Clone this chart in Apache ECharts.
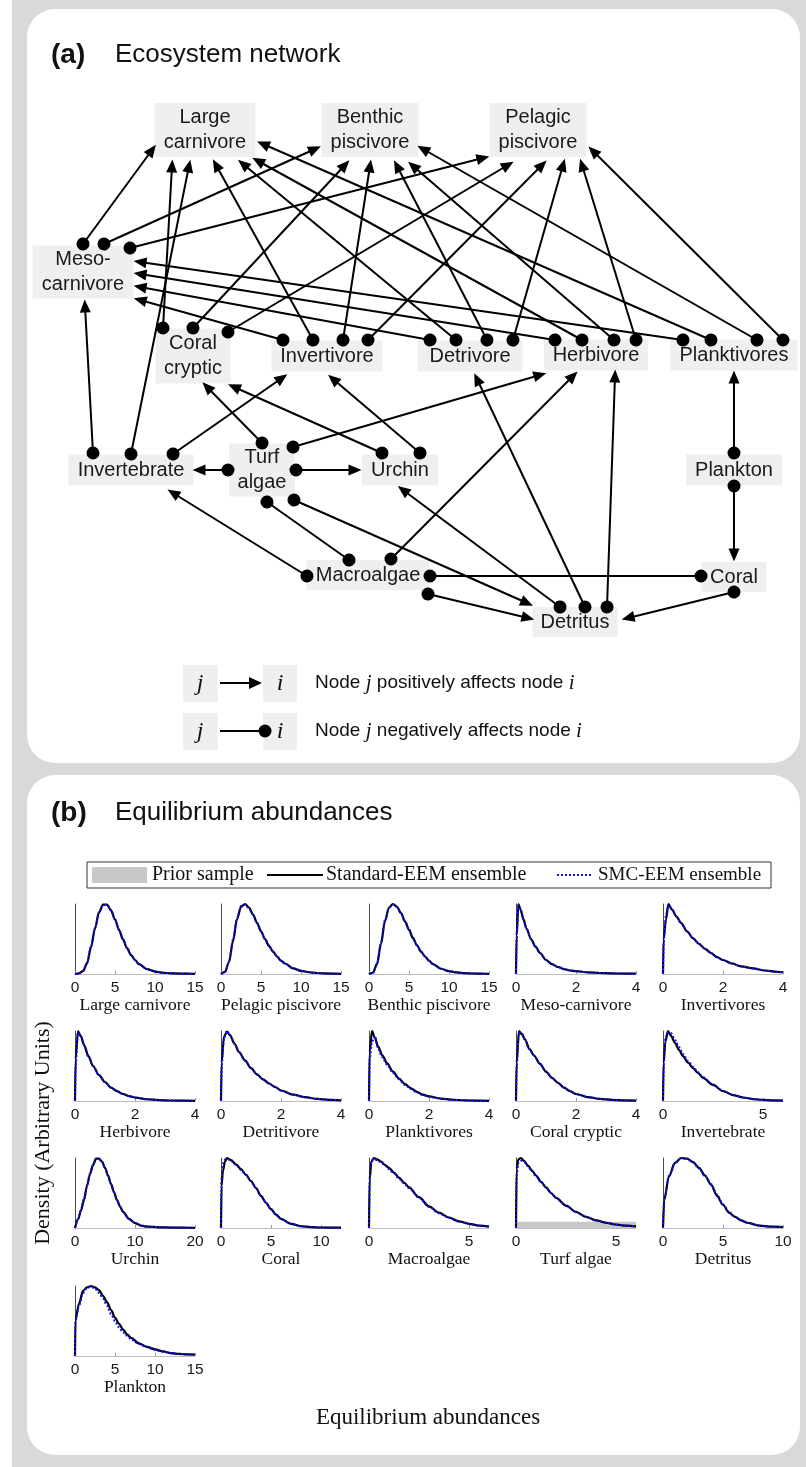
<!DOCTYPE html>
<html lang="en">
<head>
<meta charset="UTF-8">
<title>Ecosystem network and equilibrium abundances</title>
<script src="https://cdn.jsdelivr.net/npm/echarts@6/dist/echarts.min.js"></script>
<style>
    body { margin: 0; padding: 0; background: #fff; }
    #chart { width: 806px; height: 1467px; }
</style>
</head>
<body>
<div id="chart"></div>
<script>
// ---------- panel (a): ecosystem network ----------
const nodeNames = ['Large carnivore', 'Benthic piscivore', 'Pelagic piscivore', 'Meso-carnivore',
    'Coral cryptic', 'Invertivore', 'Detrivore', 'Herbivore', 'Planktivores',
    'Invertebrate', 'Turf algae', 'Urchin', 'Plankton', 'Macroalgae', 'Coral', 'Detritus'];
const nodeLabels = ['Large\ncarnivore', 'Benthic\npiscivore', 'Pelagic\npiscivore', 'Meso-\ncarnivore',
    'Coral\ncryptic', 'Invertivore', 'Detrivore', 'Herbivore', 'Planktivores',
    'Invertebrate', 'Turf\nalgae', 'Urchin', 'Plankton', 'Macroalgae', 'Coral', 'Detritus'];
// layout: box centre x, centre y, width, height (px)
const nodeBoxes = [
    [205, 130, 101, 54], [370, 130, 97, 54], [538, 130, 97, 54], [83, 272, 101, 53],
    [193, 356, 75, 55], [327, 356, 111, 31], [470, 356, 105, 31], [596, 355, 104, 31], [734, 355, 127, 31],
    [131, 470, 125, 31], [262, 470, 66, 53], [400, 470, 76, 31], [734, 470, 96, 31],
    [368, 575, 123, 30], [734, 577, 65, 30], [575, 622, 85, 30]
];
// links: [from, to, kind]  '+' = dot at from, arrow at to ; 'x' = dots at both ends
const links = [
    ['Meso-carnivore', 'Large carnivore', '+'], ['Meso-carnivore', 'Benthic piscivore', '+'], ['Meso-carnivore', 'Pelagic piscivore', '+'],
    ['Invertebrate', 'Meso-carnivore', '+'], ['Invertebrate', 'Large carnivore', '+'], ['Invertebrate', 'Invertivore', '+'],
    ['Coral cryptic', 'Large carnivore', '+'], ['Coral cryptic', 'Benthic piscivore', '+'], ['Coral cryptic', 'Pelagic piscivore', '+'],
    ['Invertivore', 'Meso-carnivore', '+'], ['Invertivore', 'Large carnivore', '+'], ['Invertivore', 'Benthic piscivore', '+'], ['Invertivore', 'Pelagic piscivore', '+'],
    ['Detrivore', 'Meso-carnivore', '+'], ['Detrivore', 'Large carnivore', '+'], ['Detrivore', 'Benthic piscivore', '+'], ['Detrivore', 'Pelagic piscivore', '+'],
    ['Herbivore', 'Meso-carnivore', '+'], ['Herbivore', 'Large carnivore', '+'], ['Herbivore', 'Benthic piscivore', '+'], ['Herbivore', 'Pelagic piscivore', '+'],
    ['Planktivores', 'Meso-carnivore', '+'], ['Planktivores', 'Large carnivore', '+'], ['Planktivores', 'Benthic piscivore', '+'], ['Planktivores', 'Pelagic piscivore', '+'],
    ['Turf algae', 'Coral cryptic', '+'], ['Turf algae', 'Herbivore', '+'], ['Turf algae', 'Invertebrate', '+'], ['Turf algae', 'Urchin', '+'],
    ['Turf algae', 'Macroalgae', 'x'], ['Turf algae', 'Detritus', '+'],
    ['Urchin', 'Coral cryptic', '+'], ['Urchin', 'Invertivore', '+'],
    ['Macroalgae', 'Invertebrate', '+'], ['Macroalgae', 'Herbivore', '+'], ['Macroalgae', 'Coral', 'x'], ['Macroalgae', 'Detritus', '+'],
    ['Detritus', 'Urchin', '+'], ['Detritus', 'Detrivore', '+'], ['Detritus', 'Herbivore', '+'],
    ['Coral', 'Detritus', '+'],
    ['Plankton', 'Planktivores', '+'], ['Plankton', 'Coral', '+']
];
// layout: where each link leaves / meets the boxes (x1, y1, x2, y2 px)
const linkEnds = [
    [83, 244, 152, 150], [104, 244, 315, 149], [130, 248, 483, 158],
    [93, 453, 85, 306], [131, 454, 189, 166], [173, 454, 282, 378],
    [163, 328, 172, 166], [193, 328, 345, 165], [228, 332, 508, 165],
    [283, 340, 140, 300], [313, 340, 216, 165], [343, 340, 370, 166], [368, 340, 542, 165],
    [430, 340, 140, 287], [456, 340, 243, 164], [487, 340, 397, 166], [513, 340, 563, 165],
    [555, 340, 140, 274], [582, 340, 258, 161], [614, 340, 413, 166], [636, 340, 582, 165],
    [683, 340, 140, 262], [711, 340, 263, 144], [757, 340, 423, 149], [783, 340, 593, 151],
    [262, 443, 207, 387], [293, 447, 540, 375], [228, 470, 199, 470], [296, 470, 355, 470],
    [267, 502, 349, 560], [294, 500, 527, 603],
    [382, 453, 234, 387], [420, 453, 333, 379],
    [307, 576, 173, 493], [391, 559, 573, 376], [430, 576, 701, 576], [428, 594, 528, 618],
    [560, 607, 403, 490], [585, 607, 477, 379], [607, 607, 615, 376],
    [734, 592, 628, 618],
    [734, 453, 734, 377], [734, 486, 734, 555]
];

// ---------- panel (b): equilibrium abundance densities ----------
const plotNames = ['Large carnivore', 'Pelagic piscivore', 'Benthic piscivore', 'Meso-carnivore', 'Invertivores',
    'Herbivore', 'Detritivore', 'Planktivores', 'Coral cryptic', 'Invertebrate',
    'Urchin', 'Coral', 'Macroalgae', 'Turf algae', 'Detritus', 'Plankton'];
const plotXMax = [15, 15, 15, 4, 4, 4, 4, 4, 4, 6, 20, 12, 6, 6, 10, 15];
const plotTicks = [[0, 5, 10, 15], [0, 5, 10, 15], [0, 5, 10, 15], [0, 2, 4], [0, 2, 4],
    [0, 2, 4], [0, 2, 4], [0, 2, 4], [0, 2, 4], [0, 5],
    [0, 10, 20], [0, 5, 10], [0, 5], [0, 5], [0, 5, 10], [0, 5, 10, 15]];

const x15 = [0, 0.5, 1, 1.5, 2, 2.5, 3, 3.5, 4, 4.5, 5, 5.5, 6, 6.5, 7, 7.5, 8, 9, 10, 11, 12, 13, 14, 15];
const stdLargeCarn = [0, 0.01, 0.04, 0.15, 0.38, 0.65, 0.88, 0.99, 0.99, 0.91, 0.78, 0.63, 0.49, 0.37, 0.27, 0.2, 0.14, 0.07, 0.035, 0.018, 0.01, 0.006, 0.004, 0.003];
const smcLargeCarn = [0, 0.01, 0.05, 0.16, 0.39, 0.66, 0.88, 0.98, 0.99, 0.91, 0.78, 0.64, 0.5, 0.38, 0.28, 0.2, 0.14, 0.07, 0.036, 0.018, 0.01, 0.006, 0.004, 0.003];
const stdPelagic = [0, 0.03, 0.17, 0.47, 0.78, 0.96, 1.0, 0.95, 0.85, 0.73, 0.61, 0.5, 0.4, 0.32, 0.25, 0.19, 0.15, 0.08, 0.045, 0.025, 0.014, 0.008, 0.005, 0.003];
const smcPelagic = [0, 0.03, 0.18, 0.49, 0.8, 0.97, 0.99, 0.94, 0.85, 0.73, 0.61, 0.5, 0.41, 0.32, 0.25, 0.19, 0.15, 0.08, 0.045, 0.025, 0.014, 0.008, 0.005, 0.003];
const stdBenthic = [0, 0.02, 0.14, 0.43, 0.76, 0.95, 1.0, 0.96, 0.87, 0.75, 0.63, 0.51, 0.41, 0.32, 0.25, 0.19, 0.14, 0.075, 0.04, 0.022, 0.012, 0.007, 0.004, 0.003];
const smcBenthic = [0, 0.02, 0.15, 0.45, 0.77, 0.95, 0.99, 0.96, 0.87, 0.76, 0.64, 0.52, 0.41, 0.32, 0.25, 0.19, 0.14, 0.075, 0.04, 0.022, 0.012, 0.007, 0.004, 0.003];

const xMeso = [0, 0.02, 0.08, 0.15, 0.25, 0.35, 0.5, 0.65, 0.8, 1.0, 1.2, 1.4, 1.6, 1.8, 2.0, 2.4, 2.8, 3.2, 3.6, 4.0];
const stdMeso = [0, 0.55, 1.0, 0.92, 0.78, 0.65, 0.5, 0.39, 0.3, 0.2, 0.14, 0.1, 0.07, 0.05, 0.04, 0.024, 0.014, 0.009, 0.006, 0.004];
const smcMeso = [0, 0.5, 0.99, 0.93, 0.78, 0.65, 0.5, 0.39, 0.3, 0.2, 0.14, 0.1, 0.07, 0.05, 0.04, 0.024, 0.014, 0.009, 0.006, 0.004];

const xInvertivores = [0, 0.02, 0.1, 0.18, 0.3, 0.45, 0.6, 0.8, 1.0, 1.2, 1.4, 1.6, 1.8, 2.0, 2.3, 2.6, 3.0, 3.4, 3.8, 4.0];
const stdInvertivores = [0, 0.5, 0.78, 1.0, 0.92, 0.82, 0.73, 0.61, 0.51, 0.43, 0.36, 0.3, 0.24, 0.2, 0.15, 0.11, 0.08, 0.05, 0.03, 0.025];
const smcInvertivores = [0, 0.45, 0.85, 0.99, 0.92, 0.82, 0.73, 0.61, 0.51, 0.43, 0.36, 0.3, 0.24, 0.2, 0.15, 0.11, 0.08, 0.05, 0.03, 0.025];

const x4 = [0, 0.02, 0.1, 0.2, 0.3, 0.45, 0.6, 0.8, 1.0, 1.2, 1.4, 1.6, 1.8, 2.0, 2.4, 2.8, 3.2, 3.6, 4.0];
const stdHerbivore = [0, 0.6, 1.0, 0.92, 0.8, 0.64, 0.5, 0.37, 0.27, 0.19, 0.14, 0.1, 0.07, 0.05, 0.025, 0.013, 0.007, 0.004, 0.002];
const smcHerbivore = [0, 0.5, 0.97, 0.93, 0.8, 0.63, 0.5, 0.37, 0.27, 0.19, 0.14, 0.1, 0.07, 0.05, 0.025, 0.013, 0.007, 0.004, 0.002];
const stdDetritivore = [0, 0.55, 0.92, 0.99, 0.94, 0.82, 0.7, 0.58, 0.47, 0.38, 0.31, 0.25, 0.2, 0.15, 0.09, 0.055, 0.03, 0.017, 0.01];
const smcDetritivore = [0, 0.5, 0.9, 1.0, 0.94, 0.82, 0.7, 0.58, 0.47, 0.38, 0.31, 0.25, 0.2, 0.15, 0.09, 0.055, 0.03, 0.017, 0.01];
const stdPlanktivores = [0, 0.7, 1.0, 0.9, 0.78, 0.65, 0.54, 0.42, 0.32, 0.24, 0.18, 0.13, 0.09, 0.065, 0.035, 0.018, 0.01, 0.005, 0.003];
const smcPlanktivores = [0, 0.6, 0.85, 0.93, 0.75, 0.62, 0.52, 0.4, 0.31, 0.23, 0.17, 0.12, 0.085, 0.06, 0.033, 0.017, 0.009, 0.005, 0.003];
const stdCoralCryptic = [0, 0.55, 1.0, 0.95, 0.88, 0.74, 0.65, 0.53, 0.42, 0.33, 0.26, 0.19, 0.14, 0.1, 0.055, 0.03, 0.016, 0.008, 0.005];
const smcCoralCryptic = [0, 0.5, 0.98, 0.96, 0.87, 0.74, 0.65, 0.53, 0.42, 0.33, 0.26, 0.19, 0.14, 0.1, 0.055, 0.03, 0.016, 0.008, 0.005];

const x6 = [0, 0.03, 0.12, 0.25, 0.4, 0.6, 0.8, 1.0, 1.25, 1.5, 1.75, 2.0, 2.5, 3.0, 3.5, 4.0, 4.5, 5.0, 5.5, 6.0];
const stdInvertebrate = [0, 0.55, 0.85, 1.0, 0.93, 0.83, 0.73, 0.64, 0.55, 0.47, 0.4, 0.33, 0.23, 0.14, 0.085, 0.05, 0.028, 0.015, 0.008, 0.005];
const smcInvertebrate = [0, 0.5, 0.9, 0.98, 0.97, 0.87, 0.77, 0.67, 0.57, 0.49, 0.41, 0.34, 0.235, 0.145, 0.087, 0.05, 0.028, 0.015, 0.008, 0.005];
const stdMacroalgae = [0, 0.7, 0.95, 1.0, 0.98, 0.95, 0.9, 0.86, 0.79, 0.72, 0.65, 0.58, 0.44, 0.31, 0.22, 0.15, 0.095, 0.06, 0.035, 0.02];
const smcMacroalgae = [0, 0.68, 0.96, 0.99, 0.97, 0.94, 0.89, 0.84, 0.78, 0.7, 0.64, 0.57, 0.43, 0.3, 0.21, 0.145, 0.09, 0.058, 0.034, 0.02];
const stdTurf = [0, 0.85, 0.98, 1.0, 0.96, 0.89, 0.82, 0.75, 0.66, 0.58, 0.5, 0.43, 0.32, 0.23, 0.16, 0.11, 0.075, 0.05, 0.033, 0.024];
const smcTurf = [0, 0.75, 0.93, 0.96, 0.95, 0.88, 0.81, 0.74, 0.66, 0.58, 0.5, 0.43, 0.32, 0.23, 0.16, 0.11, 0.075, 0.05, 0.033, 0.024];
const priorTurfX = [0, 6];
const priorTurfY = [0.09, 0.09];

const x20 = [0, 0.5, 1, 1.5, 2, 2.5, 3, 3.5, 4, 4.5, 5, 5.5, 6, 6.5, 7, 7.5, 8, 9, 10, 11, 12, 14, 16, 18, 20];
const stdUrchin = [0, 0.12, 0.25, 0.4, 0.6, 0.77, 0.9, 0.99, 0.99, 0.95, 0.86, 0.75, 0.63, 0.51, 0.4, 0.31, 0.23, 0.13, 0.07, 0.035, 0.02, 0.01, 0.006, 0.004, 0.003];
const smcUrchin = [0, 0.13, 0.27, 0.42, 0.61, 0.78, 0.9, 0.98, 0.99, 0.95, 0.86, 0.75, 0.63, 0.51, 0.4, 0.31, 0.23, 0.13, 0.07, 0.035, 0.02, 0.01, 0.006, 0.004, 0.003];

const x12 = [0, 0.05, 0.2, 0.4, 0.6, 1.0, 1.5, 2.0, 2.5, 3.0, 3.5, 4.0, 4.5, 5.0, 5.5, 6.0, 7.0, 8.0, 9.0, 10, 11, 12];
const stdCoral = [0, 0.6, 0.82, 0.95, 1.0, 0.97, 0.91, 0.84, 0.76, 0.67, 0.57, 0.46, 0.36, 0.27, 0.19, 0.13, 0.06, 0.025, 0.012, 0.007, 0.005, 0.004];
const smcCoral = [0, 0.7, 0.92, 0.98, 0.99, 0.96, 0.9, 0.83, 0.76, 0.67, 0.57, 0.46, 0.36, 0.27, 0.19, 0.13, 0.06, 0.025, 0.012, 0.007, 0.005, 0.004];

const x10 = [0, 0.1, 0.5, 1.0, 1.5, 2.0, 2.5, 3.0, 3.5, 4.0, 4.5, 5.0, 5.5, 6.0, 6.5, 7.0, 8.0, 9.0, 10];
const stdDetritus = [0, 0.4, 0.74, 0.93, 1.0, 0.99, 0.94, 0.86, 0.75, 0.62, 0.46, 0.33, 0.22, 0.16, 0.11, 0.075, 0.035, 0.02, 0.013];
const smcDetritus = [0, 0.42, 0.75, 0.93, 1.0, 0.99, 0.94, 0.85, 0.74, 0.63, 0.48, 0.34, 0.23, 0.16, 0.11, 0.075, 0.035, 0.02, 0.013];

const xPlankton = [0, 0.05, 0.5, 1.0, 1.5, 2.0, 2.5, 3.0, 3.5, 4.0, 4.5, 5.0, 5.5, 6.0, 6.5, 7.0, 8.0, 9.0, 10, 11, 12, 13, 14, 15];
const stdPlankton = [0, 0.51, 0.75, 0.93, 0.98, 1.0, 0.98, 0.94, 0.86, 0.77, 0.66, 0.55, 0.46, 0.38, 0.31, 0.26, 0.18, 0.13, 0.095, 0.065, 0.04, 0.03, 0.024, 0.02];
const smcPlankton = [0, 0.5, 0.72, 0.9, 0.97, 0.99, 0.96, 0.9, 0.82, 0.72, 0.6, 0.5, 0.41, 0.34, 0.29, 0.24, 0.17, 0.125, 0.09, 0.06, 0.04, 0.03, 0.024, 0.02];

// per plot: x samples, Standard-EEM, SMC-EEM
const plotCurves = [
    [x15, stdLargeCarn, smcLargeCarn], [x15, stdPelagic, smcPelagic], [x15, stdBenthic, smcBenthic],
    [xMeso, stdMeso, smcMeso], [xInvertivores, stdInvertivores, smcInvertivores],
    [x4, stdHerbivore, smcHerbivore], [x4, stdDetritivore, smcDetritivore], [x4, stdPlanktivores, smcPlanktivores],
    [x4, stdCoralCryptic, smcCoralCryptic], [x6, stdInvertebrate, smcInvertebrate],
    [x20, stdUrchin, smcUrchin], [x12, stdCoral, smcCoral], [x6, stdMacroalgae, smcMacroalgae],
    [x6, stdTurf, smcTurf], [x10, stdDetritus, smcDetritus], [xPlankton, stdPlankton, smcPlankton]
];

const zip = (xs, ys) => xs.map((x, i) => [x, ys[i]]);

const SANS = 'Liberation Sans, Arial, sans-serif';
const SERIF = 'Liberation Serif, Times New Roman, serif';

const chart = echarts.init(document.getElementById('chart'));

const grids = [{ left: 0, top: 0, width: 806, height: 1467 }];
const xAxes = [{ gridIndex: 0, type: 'value', min: 0, max: 806, show: false }];
const yAxes = [{ gridIndex: 0, type: 'value', min: 0, max: 1467, inverse: true, show: false }];
const series = [];

// node boxes
series.push({
    type: 'scatter',
    xAxisIndex: 0,
    yAxisIndex: 0,
    z: 1,
    silent: true,
    symbol: 'rect',
    data: nodeNames.map((n, i) => ({
        name: n,
        value: [nodeBoxes[i][0], nodeBoxes[i][1]],
        symbolSize: [nodeBoxes[i][2], nodeBoxes[i][3]]
    })),
    itemStyle: { color: '#efefef', opacity: 1 },
    label: {
        show: true,
        position: 'inside',
        formatter: p => nodeLabels[p.dataIndex],
        color: '#1a1a1a',
        fontSize: 20,
        lineHeight: 25,
        fontFamily: SANS
    }
});

// interaction links
series.push({
    type: 'lines',
    coordinateSystem: 'cartesian2d',
    xAxisIndex: 0,
    yAxisIndex: 0,
    z: 3,
    silent: true,
    lineStyle: { color: '#000', width: 2, opacity: 1 },
    data: links.map((l, i) => {
        const e = linkEnds[i];
        const pos = l[2] === '+';
        return {
            name: l[0] + ' - ' + l[1],
            coords: [[e[0], e[1]], [e[2], e[3]]],
            symbol: ['circle', pos ? 'triangle' : 'circle'],
            symbolSize: [13, pos ? [11, 13] : 13]
        };
    })
});

// small density plots
const colLeft = [75, 221, 369, 516, 663];
const rowTop = [904, 1031, 1158, 1286];
plotNames.forEach((name, i) => {
    const g = i + 1;
    grids.push({ left: colLeft[i % 5], top: rowTop[Math.floor(i / 5)], width: 120, height: 70 });
    xAxes.push({
        gridIndex: g,
        type: 'value',
        min: 0,
        max: plotXMax[i],
        name: name,
        nameLocation: 'middle',
        nameGap: 22,
        nameTextStyle: { fontFamily: SERIF, fontSize: 17.5, color: '#111' },
        axisLine: { show: true, onZero: false, lineStyle: { color: '#bdbdbd', width: 1 } },
        axisTick: { show: true, inside: true, length: 3, customValues: plotTicks[i], lineStyle: { color: '#999' } },
        axisLabel: { show: true, customValues: plotTicks[i], fontSize: 15.5, color: '#1a1a1a', margin: 6, fontFamily: SANS },
        splitLine: { show: false }
    });
    yAxes.push({
        gridIndex: g,
        type: 'value',
        min: 0,
        max: 1,
        axisLine: { show: true, onZero: false, lineStyle: { color: '#4d4d4d', width: 1 } },
        axisTick: { show: false },
        axisLabel: { show: false },
        splitLine: { show: false }
    });
    const c = plotCurves[i];
    if (name === 'Turf algae') {
        series.push({
            type: 'line', xAxisIndex: g, yAxisIndex: g, z: 1, silent: true,
            data: zip(priorTurfX, priorTurfY),
            showSymbol: false,
            lineStyle: { width: 0 },
            areaStyle: { color: '#c8c8c8', opacity: 1 }
        });
    }
    series.push({
        type: 'line', name: 'Standard-EEM ensemble', xAxisIndex: g, yAxisIndex: g, z: 3, silent: true,
        data: zip(c[0], c[1]),
        showSymbol: false, clip: false,
        smooth: 0.3, smoothMonotone: 'x',
        lineStyle: { color: '#000', width: 2.2 }
    });
    series.push({
        type: 'line', name: 'SMC-EEM ensemble', xAxisIndex: g, yAxisIndex: g, z: 4, silent: true,
        data: zip(c[0], c[2]),
        showSymbol: false, clip: false,
        smooth: 0.3, smoothMonotone: 'x',
        lineStyle: { color: '#1010ff', width: 2, type: [2, 2] }
    });
});

const txt = (text, x, y, font, extra) => Object.assign({
    type: 'text', x: x, y: y, z: 5, silent: true,
    style: Object.assign({
        text: text, font: font, fill: '#111',
        align: 'left', verticalAlign: 'middle', textAlign: 'left', textVerticalAlign: 'middle'
    }, extra || {})
});

const graphics = [
    // frame and panels
    { type: 'rect', z: -10, silent: true, shape: { x: 12, y: 0, width: 794, height: 1467 }, style: { fill: '#d9d9d9' } },
    { type: 'rect', z: -9, silent: true, shape: { x: 27, y: 9, width: 773, height: 754, r: 28 }, style: { fill: '#fff' } },
    { type: 'rect', z: -9, silent: true, shape: { x: 27, y: 775, width: 773, height: 680, r: 28 }, style: { fill: '#fff' } },
    // panel titles
    txt('(a)', 51, 55, 'bold 28px ' + SANS),
    txt('Ecosystem network', 115, 55, '26px ' + SANS),
    txt('(b)', 51, 813, 'bold 28px ' + SANS),
    txt('Equilibrium abundances', 115, 813, '26px ' + SANS),
    // network key
    { type: 'rect', z: 1, silent: true, shape: { x: 183, y: 665, width: 35, height: 37 }, style: { fill: '#efefef' } },
    { type: 'rect', z: 1, silent: true, shape: { x: 263, y: 665, width: 34, height: 37 }, style: { fill: '#efefef' } },
    { type: 'rect', z: 1, silent: true, shape: { x: 183, y: 713, width: 35, height: 37 }, style: { fill: '#efefef' } },
    { type: 'rect', z: 1, silent: true, shape: { x: 263, y: 713, width: 34, height: 37 }, style: { fill: '#efefef' } },
    { type: 'line', z: 5, silent: true, shape: { x1: 220, y1: 683, x2: 252, y2: 683 }, style: { stroke: '#000', lineWidth: 2 } },
    { type: 'polygon', z: 5, silent: true, shape: { points: [[249, 677], [262, 683], [249, 689]] }, style: { fill: '#000' } },
    { type: 'line', z: 5, silent: true, shape: { x1: 220, y1: 731, x2: 262, y2: 731 }, style: { stroke: '#000', lineWidth: 2 } },
    { type: 'circle', z: 5, silent: true, shape: { cx: 265, cy: 731, r: 6.5 }, style: { fill: '#000' } },
    txt('j', 200, 684, 'italic 24px ' + SERIF, { align: 'center', textAlign: 'center' }),
    txt('i', 280, 684, 'italic 24px ' + SERIF, { align: 'center', textAlign: 'center' }),
    txt('j', 200, 732, 'italic 24px ' + SERIF, { align: 'center', textAlign: 'center' }),
    txt('i', 280, 732, 'italic 24px ' + SERIF, { align: 'center', textAlign: 'center' }),
    txt('Node {m|j} positively affects node {m|i}', 315, 683, '19px ' + SANS,
        { rich: { m: { fontStyle: 'italic', fontFamily: SERIF, fontSize: 21, fill: '#111' } } }),
    txt('Node {m|j} negatively affects node {m|i}', 315, 731, '19px ' + SANS,
        { rich: { m: { fontStyle: 'italic', fontFamily: SERIF, fontSize: 21, fill: '#111' } } }),
    // density legend
    { type: 'rect', z: 5, silent: true, shape: { x: 87, y: 862, width: 684, height: 26 }, style: { fill: '#fff', stroke: '#333', lineWidth: 1 } },
    { type: 'rect', z: 6, silent: true, shape: { x: 92, y: 867, width: 55, height: 16 }, style: { fill: '#c8c8c8' } },
    txt('Prior sample', 152, 875, '20px ' + SERIF, { fill: '#111' }),
    { type: 'line', z: 6, silent: true, shape: { x1: 267, y1: 875, x2: 323, y2: 875 }, style: { stroke: '#000', lineWidth: 2 } },
    txt('Standard-EEM ensemble', 326, 875, '20px ' + SERIF, { fill: '#111' }),
    { type: 'line', z: 6, silent: true, shape: { x1: 557, y1: 875, x2: 593, y2: 875 }, style: { stroke: '#1010ff', lineWidth: 2, lineDash: [2, 2] } },
    txt('SMC-EEM ensemble', 598, 875, '19px ' + SERIF, { fill: '#111' }),
    // shared axis titles
    {
        type: 'text', z: 5, silent: true, x: 43, y: 1133, rotation: Math.PI / 2,
        style: { text: 'Density (Arbitrary Units)', font: '22px ' + SERIF, fill: '#111',
            align: 'center', verticalAlign: 'middle', textAlign: 'center', textVerticalAlign: 'middle' }
    },
    txt('Equilibrium abundances', 428, 1418, '23px ' + SERIF, { align: 'center', textAlign: 'center' })
];

chart.setOption({
    animation: false,
    backgroundColor: '#fff',
    grid: grids,
    xAxis: xAxes,
    yAxis: yAxes,
    series: series,
    graphic: { elements: graphics }
});
</script>
</body>
</html>
